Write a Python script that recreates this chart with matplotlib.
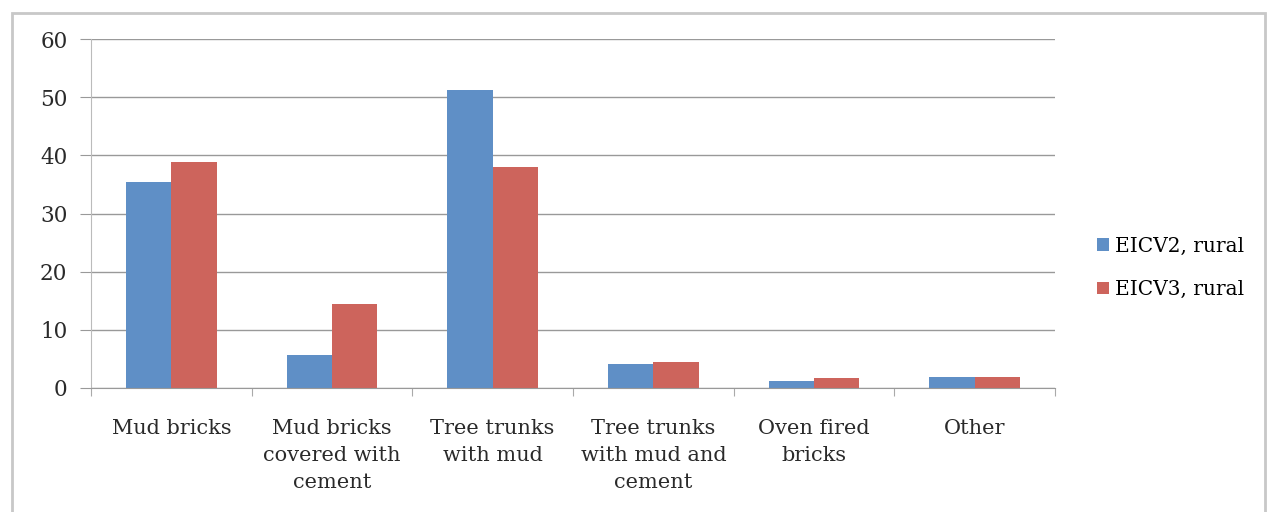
import matplotlib.pyplot as plt
from matplotlib.patches import Rectangle
import numpy as np

categories = ["Mud bricks", "Mud bricks\ncovered with\ncement", "Tree trunks\nwith mud",
              "Tree trunks\nwith mud and\ncement", "Oven fired\nbricks", "Other"]
eicv2_rural = [35.4, 5.7, 51.2, 4.2, 1.2, 1.9]
eicv3_rural = [38.9, 14.4, 38.0, 4.5, 1.7, 1.9]
series_names = ["EICV2, rural", "EICV3, rural"]

plt.rcParams['font.family'] = ['DejaVu Serif']

fig = plt.figure(figsize=(12.68, 5.12), dpi=100)
ax = fig.add_axes([0.0718, 0.2422, 0.7602, 0.6816])

# gray frame around the whole chart
fig.patches.append(Rectangle((0.0095, -0.05), 0.988, 1.025, transform=fig.transFigure,
                             fill=False, edgecolor="#c8c8c8", linewidth=2))

x = np.arange(len(categories))
w = 0.283
ax.bar(x - w / 2, eicv2_rural, w, color="#5f8fc6", label=series_names[0])
ax.bar(x + w / 2, eicv3_rural, w, color="#cd645c", label=series_names[1])

ax.set_xlim(-0.5, len(categories) - 0.5)
ax.set_ylim(0, 60)
ax.set_yticks(range(0, 61, 10))
ax.yaxis.grid(True, color="#999999", linewidth=1)
ax.set_axisbelow(True)

for s in ["top", "right"]:
    ax.spines[s].set_visible(False)
ax.spines["left"].set_color("#bbbbbb")
ax.spines["bottom"].set_color("#999999")

ax.set_xticks(np.arange(-0.5, len(categories), 1))
ax.set_xticklabels([])
ax.set_xticks(x, minor=True)
ax.set_xticklabels(categories, minor=True, fontsize=15, color="#2a2a2a", linespacing=1.55)
ax.tick_params(axis="x", which="major", length=6, color="#aaaaaa")
ax.tick_params(axis="x", which="minor", length=0, pad=22)
ax.tick_params(axis="y", length=8, color="#999999", labelsize=15.5, labelcolor="#2a2a2a", pad=9)

ax.legend(loc="center left", bbox_to_anchor=(1.025, 0.344), frameon=False, fontsize=14.5,
          handlelength=0.6, handleheight=0.6, handletextpad=0.3, labelspacing=1.2)

fig.savefig("out.png", dpi=100)
